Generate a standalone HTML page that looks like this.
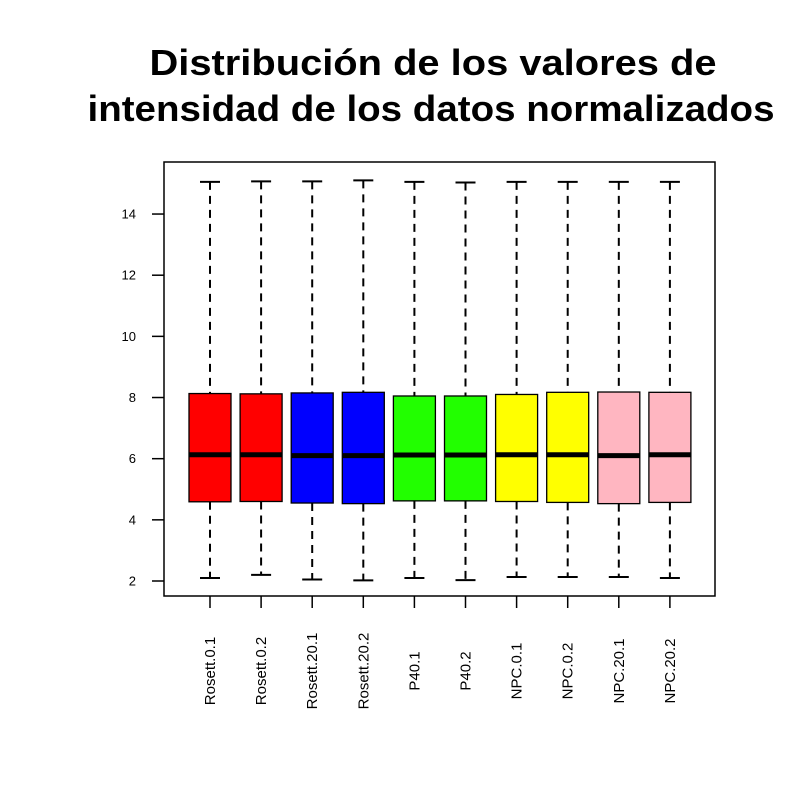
<!DOCTYPE html>
<html><head><meta charset="utf-8"><style>
body{margin:0;background:#fff}
svg{display:block;font-family:"Liberation Sans",Arial,sans-serif}
</style></head><body>
<svg id="chart" width="800" height="800">
<text x="433" y="75" text-anchor="middle" font-size="36" font-weight="bold" textLength="567" lengthAdjust="spacingAndGlyphs">Distribución de los valores de</text>
<text x="431" y="121" text-anchor="middle" font-size="36" font-weight="bold" textLength="687" lengthAdjust="spacingAndGlyphs">intensidad de los datos normalizados</text>
<rect x="164" y="162" width="551" height="434" fill="none" stroke="#000" stroke-width="1.5"/>
<g id="marks"></g>
</svg>
<script>
const categories=["Rosett.0.1","Rosett.0.2","Rosett.20.1","Rosett.20.2","P40.1","P40.2","NPC.0.1","NPC.0.2","NPC.20.1","NPC.20.2"];
const colors=["#ff0000","#ff0000","#0000ff","#0000ff","#22ff00","#22ff00","#ffff00","#ffff00","#ffb6c1","#ffb6c1"];
const lowWhisker=[2.1,2.2,2.05,2.02,2.1,2.03,2.13,2.13,2.13,2.1];
const q1=[4.59,4.6,4.55,4.53,4.62,4.62,4.6,4.57,4.53,4.57];
const median=[6.13,6.13,6.1,6.1,6.12,6.12,6.13,6.13,6.1,6.13];
const q3=[8.13,8.12,8.15,8.17,8.05,8.05,8.1,8.17,8.18,8.17];
const highWhisker=[15.05,15.07,15.07,15.1,15.05,15.03,15.05,15.05,15.05,15.05];
const yTicks=[2,4,6,8,10,12,14];
const NS="http://www.w3.org/2000/svg";
const y=v=>581-(v-2)*30.58;
const x=i=>210+i*51.1;
const svg=document.getElementById('chart');
const g=document.getElementById('marks');
function mk(tag,attrs,parent){const e=document.createElementNS(NS,tag);for(const k in attrs)e.setAttribute(k,attrs[k]);(parent||g).appendChild(e);return e;}
yTicks.forEach(t=>{
  const l=mk('line',{x1:152,x2:164,y1:y(t),y2:y(t),stroke:'#000','stroke-width':1.5});
  
  
  const tx=mk('text',{x:136,y:y(t)+4.5,'text-anchor':'end','font-size':13});
  tx.textContent=t;
  
  
});
categories.forEach((c,i)=>{
  const cx=x(i);
  const grp=mk('g',{});
  
  
  mk('line',{x1:cx,x2:cx,y1:y(highWhisker[i]),y2:y(q3[i]),stroke:'#000','stroke-width':2,'stroke-dasharray':'8,6'},grp);
  mk('line',{x1:cx,x2:cx,y1:y(q1[i]),y2:y(lowWhisker[i]),stroke:'#000','stroke-width':2,'stroke-dasharray':'8,6'},grp);
  mk('line',{x1:cx-10,x2:cx+10,y1:y(highWhisker[i]),y2:y(highWhisker[i]),stroke:'#000','stroke-width':2},grp);
  mk('line',{x1:cx-10,x2:cx+10,y1:y(lowWhisker[i]),y2:y(lowWhisker[i]),stroke:'#000','stroke-width':2},grp);
  mk('rect',{x:cx-21,y:y(q3[i]),width:42,height:y(q1[i])-y(q3[i]),fill:colors[i],stroke:'#000','stroke-width':1.3},grp);
  mk('line',{x1:cx-21,x2:cx+21,y1:y(median[i]),y2:y(median[i]),stroke:'#000','stroke-width':5},grp);
  const tk=mk('line',{x1:cx,x2:cx,y1:596,y2:608,stroke:'#000','stroke-width':1.5});
  
  
  const tx=mk('text',{x:0,y:0,'text-anchor':'middle','font-size':15,transform:`translate(${cx+5},671) rotate(-90)`});
  tx.textContent=c;
  
  
});
</script>
</body></html>
